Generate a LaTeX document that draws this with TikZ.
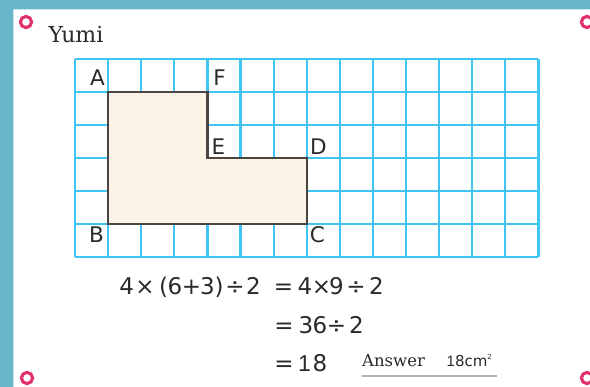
\documentclass[tikz,border=0pt]{standalone}
\usepackage{fontspec}
\newfontfamily\labfont{DejaVu Sans}
\newfontfamily\onefont{Liberation Sans}
\newfontfamily\serfont{DejaVu Serif}
\definecolor{framec}{HTML}{67B5C9}
\definecolor{gridc}{HTML}{40C4F3}
\definecolor{ringc}{HTML}{E0316E}
\definecolor{fillc}{HTML}{FDF2E6}
\definecolor{edgec}{HTML}{4A4442}
\definecolor{textc}{HTML}{2A2A2A}
\tikzset{
  gridline/.style={gridc, line width=2.2pt},
  ringmark/.style={ringc, line width=3.1pt},
  ptlabel/.style={font=\labfont\fontsize{21.5}{22}\selectfont, text=textc, anchor=base, inner sep=0pt},
  eqchar/.style={font=\labfont\fontsize{23}{23}\selectfont, text=textc, anchor=base, inner sep=0pt},
}
\begin{document}
\begin{tikzpicture}[x=1pt,y=-1pt]
\useasboundingbox (0,0) rectangle (590,387);
\fill[white] (0,0) rectangle (590,387);
% frame
\fill[framec] (0,0) rectangle (590,9);
\fill[framec] (0,0) rectangle (13,387);
\draw[framec!35, line width=1pt] (13.5,387) -- (13.5,9.5) -- (590,9.5);
% corner rings
\foreach \p/\q [count=\k] in {26/22, 587/22, 27/378, 587/378}
  \draw[ringmark] (\p,\q) circle (5.6);
% title
\node[font=\serfont\fontsize{22}{22}\selectfont, text=textc, anchor=base west, inner sep=0pt] (title) at (48.5,42.5) {Yumi};
% grid
\foreach \i in {0,...,14}
  \draw[gridline] (75+33.1*\i,59.3) -- (75+33.1*\i,257.3);
\foreach \j in {0,...,6}
  \draw[gridline] (75,59.3+33*\j) -- (538.4,59.3+33*\j);
% shape corners
\coordinate (A) at (108.1,92.3);
\coordinate (F) at (207.4,92.3);
\coordinate (E) at (207.4,158.3);
\coordinate (D) at (306.7,158.3);
\coordinate (C) at (306.7,224.3);
\coordinate (B) at (108.1,224.3);
\filldraw[fill=fillc, draw=edgec, line width=2.2pt, line join=miter] (A) -- (F) -- (E) -- (D) -- (C) -- (B) -- cycle;
% labels
\node[ptlabel] (lA) at (97.5,86) {A};
\node[ptlabel] (lF) at (219.5,86) {F};
\node[ptlabel] (lE) at (218.5,155) {E};
\node[ptlabel] (lD) at (318.5,155) {D};
\node[ptlabel] (lB) at (96.5,243) {B};
\node[ptlabel] (lC) at (317.5,243) {C};
% equation line 1
\foreach \x/\c [count=\k] in {126.7/4, 145/×, 163.5/(, 175/6, 191.5/+, 207.5/3, 219/), 235/÷, 253.5/2, 283.5/=, 305/4, 321.5/×, 336.5/9, 356/÷, 376.5/2}
  \node[eqchar] (ea\k) at (\x,295) {\c};
% line 2
\foreach \x/\c [count=\k] in {284/=, 306/3, 320/6, 336.5/÷, 356.5/2}
  \node[eqchar] (eb\k) at (\x,334) {\c};
% line 3
\node[eqchar] (ec1) at (284,372) {=};
\node[eqchar, font=\onefont\fontsize{23}{23}\selectfont] (ec2) at (304.5,372) {1};
\node[eqchar] (ec3) at (320,372) {8};
% answer
\node[font=\serfont\fontsize{16.5}{16.5}\selectfont, text=textc, anchor=base west, inner sep=0pt] (ans) at (362,366.7) {Answer};
\node[font=\labfont\fontsize{15}{15}\selectfont, text=textc, anchor=base west, inner sep=0pt] (ansv) at (446.5,366.7) {{\onefont 1}8cm\raisebox{0.45em}{\fontsize{7}{7}\selectfont 2}};
\draw[black!30, line width=1.5pt] (362,376) -- (497,376);
\end{tikzpicture}
\end{document}
